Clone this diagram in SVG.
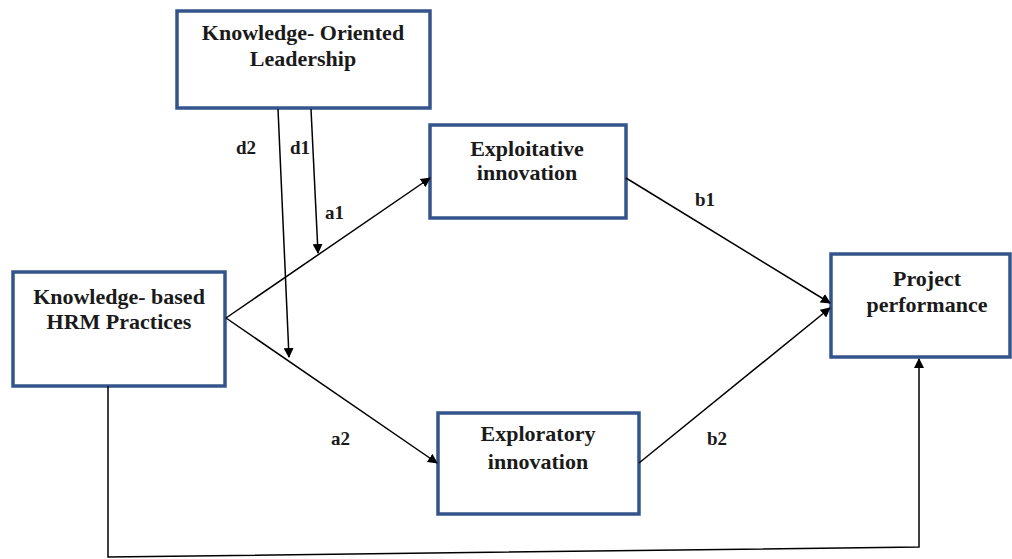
<svg xmlns="http://www.w3.org/2000/svg" width="1012" height="559" viewBox="0 0 1012 559">
<defs>
<marker id="ah" markerWidth="10" markerHeight="10" refX="9" refY="5" orient="auto" markerUnits="userSpaceOnUse"><path d="M0,0 L10,5 L0,10 z" fill="#000"/></marker>
<style>
.box{fill:#fff;stroke:#34558b;stroke-width:3.5}
.t{font-family:"Liberation Serif","Times New Roman",serif;font-weight:bold;font-size:22px;fill:#1a1a1a;text-anchor:middle}
.l{font-family:"Liberation Serif","Times New Roman",serif;font-weight:bold;font-size:19px;fill:#1a1a1a}
.c{fill:none;stroke:#000;stroke-width:1.5}
</style>
</defs>
<rect width="1012" height="559" fill="#fff"/>
<g id="kol"><rect class="box" x="177" y="11" width="253" height="97"/><text class="t" x="303" y="40">Knowledge- Oriented</text><text class="t" x="303" y="66">Leadership</text></g>
<g id="hrm"><rect class="box" x="13" y="272" width="212" height="114"/><text class="t" x="119" y="304">Knowledge- based</text><text class="t" x="119" y="329">HRM Practices</text></g>
<g id="exploit"><rect class="box" x="430" y="125" width="196" height="93"/><text class="t" x="527" y="156">Exploitative</text><text class="t" x="527" y="180">innovation</text></g>
<g id="explor"><rect class="box" x="438" y="413" width="201" height="101"/><text class="t" x="538" y="441">Exploratory</text><text class="t" x="538" y="469">innovation</text></g>
<g id="pp"><rect class="box" x="831" y="254" width="179" height="103"/><text class="t" x="927" y="286">Project</text><text class="t" x="927" y="312">performance</text></g>
<g id="connectors">
<line class="c" x1="226" y1="318" x2="430" y2="178" marker-end="url(#ah)"/>
<line class="c" x1="226" y1="318" x2="437" y2="463" marker-end="url(#ah)"/>
<line class="c" x1="626" y1="178" x2="830" y2="303" marker-end="url(#ah)"/>
<line class="c" x1="639" y1="463" x2="830" y2="308" marker-end="url(#ah)"/>
<polyline class="c" points="108,386 108,557 919,547 919,359" marker-end="url(#ah)"/>
<line class="c" x1="311" y1="109" x2="318" y2="253" marker-end="url(#ah)"/>
<line class="c" x1="278" y1="109" x2="289" y2="357" marker-end="url(#ah)"/>
</g>
<g id="labels">
<text class="l" x="236" y="154">d2</text>
<text class="l" x="290" y="154">d1</text>
<text class="l" x="325" y="219">a1</text>
<text class="l" x="331" y="445">a2</text>
<text class="l" x="695" y="206">b1</text>
<text class="l" x="707" y="445">b2</text>
</g>
</svg>
